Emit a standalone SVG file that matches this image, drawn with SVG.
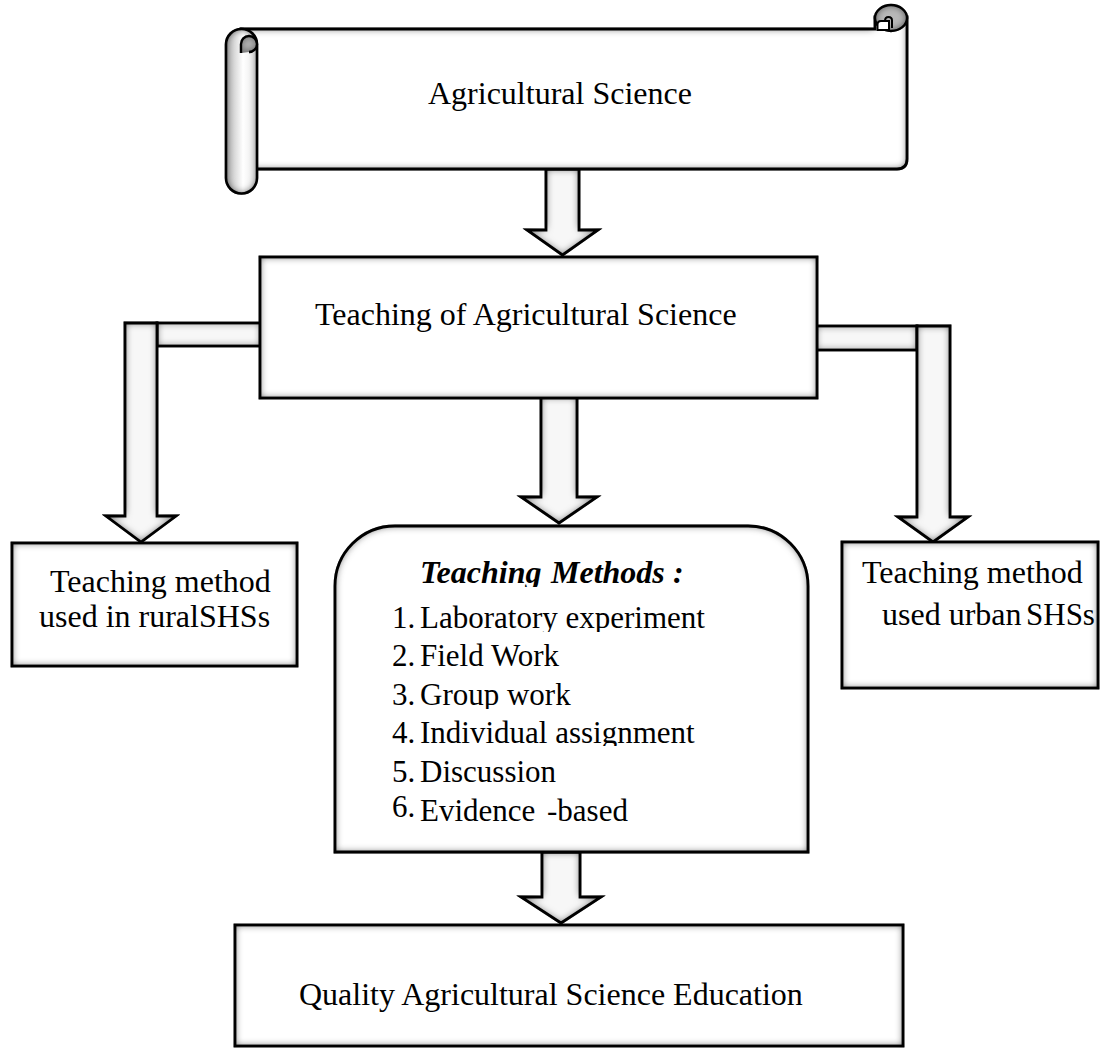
<svg xmlns="http://www.w3.org/2000/svg" width="1106" height="1054" viewBox="0 0 1106 1054">
<style>
.sh{fill:#fff;stroke:#000;stroke-width:2.8;stroke-linejoin:miter;filter:url(#inner)}
.roll{fill:url(#rollg);stroke:#000;stroke-width:2.6;filter:url(#inner)}
.dk{fill:#b8b8b8;stroke:#000;stroke-width:2.4;filter:url(#inner)}
.ar{fill:#f7f7f7;stroke:#000;stroke-width:2.8;stroke-linejoin:miter;filter:url(#inner)}
.t{font-family:"Liberation Serif","Times New Roman",serif;font-size:32px;fill:#000}
.l{font-family:"Liberation Serif","Times New Roman",serif;font-size:31px;fill:#000}
.h{font-family:"Liberation Serif","Times New Roman",serif;font-size:32px;font-weight:bold;font-style:italic;fill:#000}
</style>
<defs>
<linearGradient id="rollg" x1="0" y1="0" x2="1" y2="0">
<stop offset="0" stop-color="#b4b4b4"/>
<stop offset="0.55" stop-color="#ffffff"/>
<stop offset="1" stop-color="#e6e6e6"/>
</linearGradient>
<filter id="inner" x="-20%" y="-20%" width="140%" height="140%" color-interpolation-filters="sRGB">
<feComponentTransfer in="SourceAlpha" result="inv"><feFuncA type="table" tableValues="1 0"/></feComponentTransfer>
<feGaussianBlur in="inv" stdDeviation="4.5" result="blur"/>
<feComposite in="blur" in2="SourceAlpha" operator="in" result="sh"/>
<feColorMatrix in="sh" type="matrix" values="0 0 0 0 0 0 0 0 0 0 0 0 0 0 0 0 0 0 0.85 0" result="shc"/>
<feMerge><feMergeNode in="SourceGraphic"/><feMergeNode in="shc"/></feMerge>
</filter>
<clipPath id="cTM"><rect x="330" y="540" width="480" height="47"/></clipPath>
<clipPath id="c1"><rect x="330" y="595" width="480" height="37"/></clipPath>
<clipPath id="c3"><rect x="330" y="675" width="480" height="34"/></clipPath>
<clipPath id="c4"><rect x="330" y="712" width="480" height="34"/></clipPath>
</defs>
<rect width="1106" height="1054" fill="#fff"/>

<g id="connectors">
<polygon class="ar" points="546,169 579,169 579,230 598,230 562.5,255 527,230 546,230"/>
<polygon class="ar" points="541,397 577,397 577,497 597,497 559,523 521,497 541,497"/>
<polygon class="ar" points="542,852 580,852 580,897 601,897 561,923 521,897 542,897"/>
<rect class="ar" x="157" y="323" width="104" height="23"/>
<polygon class="ar" points="125,323 157,323 157,516 176,516 141,542 106,516 125,516"/>
<rect class="ar" x="816" y="326" width="101" height="24"/>
<polygon class="ar" points="917,326 950,326 950,517 968,517 933,542 898,517 917,517"/>
</g>

<g id="node-agri-science">
<path class="sh" d="M241,29 H875 V17 H907 V159 Q907,169 897,169 H241 Z"/>
<path class="roll" d="M226,44.5 A15.5,15.5 0 0 1 257,44.5 V178 A15.5,15.5 0 0 1 226,178 Z"/>
<path class="dk" d="M241,53 V44 A8,8 0 1 1 249,52"/>
<ellipse class="dk" cx="891" cy="18" rx="16" ry="13"/>
<path d="M877.5,30 V24.5 Q877.5,21 881,21 H889 V30 Z" fill="#fff" stroke="#000" stroke-width="2"/>
<path d="M885,21 Q885,17 888.5,17 Q892,17 892,20.5 V28" fill="none" stroke="#000" stroke-width="2"/>
<text class="t" x="428" y="104">Agricultural Science</text>
</g>

<g id="node-teaching">
<rect class="sh" x="260" y="257" width="557" height="141"/>
<text class="t" x="315" y="325">Teaching of Agricultural Science</text>
</g>

<g id="node-rural">
<rect class="sh" x="12" y="543" width="285" height="123"/>
<text class="t" x="50" y="592">Teaching method</text>
<text class="t" x="39" y="627">used in ruralSHSs</text>
</g>

<g id="node-urban">
<rect class="sh" x="842" y="542" width="256" height="146"/>
<text class="t" x="862" y="583">Teaching method</text>
<text class="t" x="882" y="625">used urban<tspan x="1026" font-size="31">SHSs</tspan></text>
</g>

<g id="node-methods">
<path class="sh" d="M335,852 V586 A60,60 0 0 1 395,526 H748 A60,60 0 0 1 808,586 V852 Z"/>
<text class="h" x="420" y="583" clip-path="url(#cTM)">Teaching<tspan x="551">Methods</tspan><tspan x="673">:</tspan></text>
<g clip-path="url(#c1)"><text class="l" x="392" y="628">1.</text><text class="l" x="420" y="628">Laboratory experiment</text></g>
<text class="l" x="392" y="666">2.</text><text class="l" x="420" y="666">Field Work</text>
<g clip-path="url(#c3)"><text class="l" x="392" y="705">3.</text><text class="l" x="420" y="705">Group work</text></g>
<g clip-path="url(#c4)"><text class="l" x="392" y="743">4.</text><text class="l" x="420" y="743">Individual assignment</text></g>
<text class="l" x="392" y="782">5.</text><text class="l" x="420" y="782">Discussion</text>
<text class="l" x="392" y="817">6.</text><text class="l" x="420" y="821">Evidence<tspan x="547">-based</tspan></text>
</g>

<g id="node-quality">
<rect class="sh" x="235" y="925" width="668" height="121"/>
<text class="t" x="299" y="1005">Quality Agricultural Science Education</text>
</g>
</svg>
